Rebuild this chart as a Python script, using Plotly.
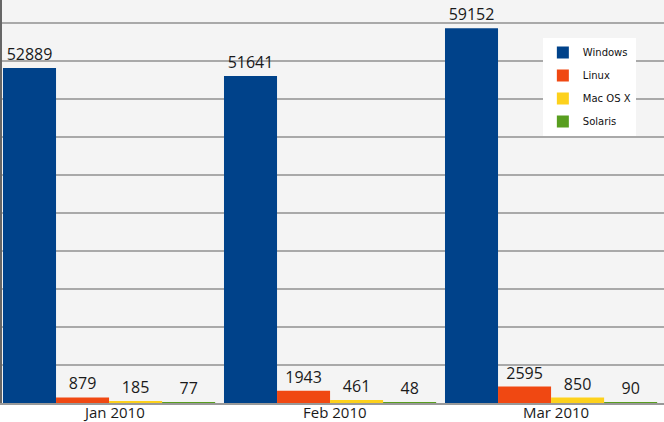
import plotly.graph_objects as go

months = ["Jan 2010", "Feb 2010", "Mar 2010"]
windows = [52889, 51641, 59152]
linux = [879, 1943, 2595]
mac_os_x = [185, 461, 850]
solaris = [77, 48, 90]

series = [
    ("Windows", windows, "#00428a"),
    ("Linux", linux, "#f04812"),
    ("Mac OS X", mac_os_x, "#fdd11c"),
    ("Solaris", solaris, "#589e1f"),
]

fig = go.Figure()

for name, vals, color in series:
    fig.add_trace(go.Bar(
        x=months,
        y=vals,
        name=name,
        legendgroup=name,
        marker=dict(color=color, line=dict(width=0)),
        text=vals,
        textposition="outside",
        textfont=dict(family="Open Sans", size=16, color="#1a1a1a"),
        cliponaxis=False,
    ))

# month labels sit a little closer to the axis than plotly's tick labels do
for m in months:
    fig.add_annotation(
        x=m, y=0, xref="x", yref="paper",
        text=m, showarrow=False,
        yanchor="middle", yshift=-9, xshift=5, borderpad=0,
        font=dict(family="Open Sans", size=15, color="#1a1a1a"),
    )

fig.update_layout(
    width=664,
    height=422,
    margin=dict(l=2, r=0, t=0, b=19, autoexpand=False),
    barmode="group",
    bargap=0.04,
    bargroupgap=0,
    plot_bgcolor="#f4f4f4",
    paper_bgcolor="white",
    showlegend=True,
    legend=dict(
        x=0.817, y=0.906, xanchor="left", yanchor="top",
        bgcolor="white",
        font=dict(family="DejaVu Sans", size=10, color="#111"),
        itemwidth=30,
        tracegroupgap=4,
    ),
)

fig.update_xaxes(
    range=[-0.4845, 2.511],
    showline=True, linecolor="#999", linewidth=1.5,
    showticklabels=False, ticks="",
)
fig.update_yaxes(
    range=[0, 63630],
    dtick=6000,
    showticklabels=False,
    showgrid=True, gridcolor="#a9a9a9", gridwidth=1.5,
    showline=True, linecolor="#666", linewidth=1.5,
    zeroline=False,
)

# page body has an 8px default margin; drop it so the figure fills the window
fig.write_html("out.html", config={"displayModeBar": False},
               post_script="document.body.style.margin = '0';")
